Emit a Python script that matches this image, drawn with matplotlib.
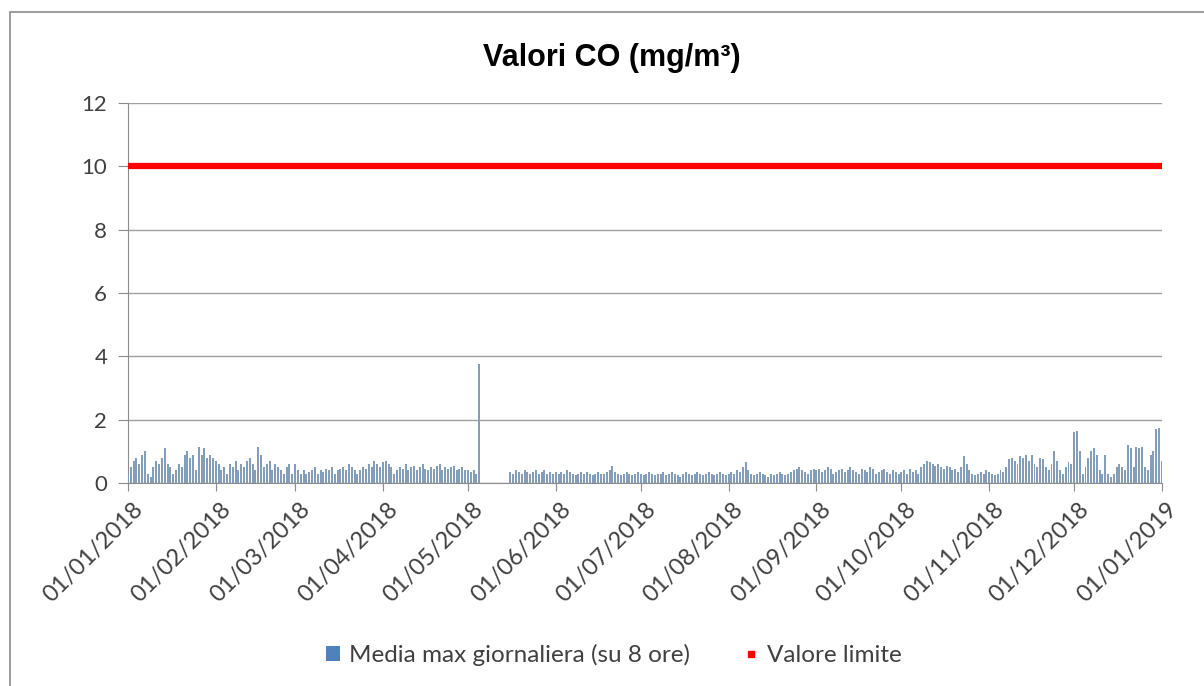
import numpy as np
import pandas as pd
import matplotlib
matplotlib.use("Agg")
import matplotlib.pyplot as plt
import matplotlib.dates as mdates
import matplotlib.transforms as mtransforms
from matplotlib.patches import Patch, Rectangle
from matplotlib.lines import Line2D

# Media max giornaliera (su 8 ore), mg/m3 - valori giornalieri 2018
gen = [0.3, 0.5, 0.7, 0.8, 0.6, 0.9, 1.0, 0.3, 0.2, 0.5, 0.7, 0.6, 0.8, 1.1, 0.6, 0.5,
       0.3, 0.4, 0.6, 0.5, 0.9, 1.0, 0.8, 0.9, 0.4, 1.15, 0.9, 1.1, 0.8, 0.9, 0.8]
feb = [0.7, 0.6, 0.4, 0.5, 0.3, 0.6, 0.5, 0.7, 0.4, 0.6, 0.5, 0.7, 0.8, 0.6, 0.4, 1.15,
       0.9, 0.5, 0.6, 0.7, 0.4, 0.6, 0.5, 0.4, 0.3, 0.5, 0.6, 0.3]
mar = [0.6, 0.4, 0.3, 0.4, 0.3, 0.35, 0.4, 0.5, 0.3, 0.4, 0.35, 0.45, 0.4, 0.5, 0.3, 0.4,
       0.45, 0.5, 0.4, 0.6, 0.5, 0.4, 0.3, 0.4, 0.5, 0.45, 0.6, 0.5, 0.7, 0.6, 0.5]
apr = [0.65, 0.7, 0.6, 0.5, 0.3, 0.4, 0.5, 0.45, 0.6, 0.4, 0.5, 0.55, 0.4, 0.5, 0.6,
       0.45, 0.4, 0.5, 0.45, 0.55, 0.6, 0.4, 0.5, 0.45, 0.5, 0.55, 0.4, 0.45, 0.5, 0.4]
mag = [0.4, 0.35, 0.4, 0.3, 3.75] + [np.nan] * 10 + \
      [0.35, 0.3, 0.4, 0.35, 0.3, 0.4, 0.35, 0.3, 0.35, 0.4, 0.3, 0.35, 0.4, 0.3, 0.35, 0.3]
giu = [0.35, 0.3, 0.35, 0.3, 0.4, 0.35, 0.3, 0.25, 0.3, 0.35, 0.3, 0.35, 0.3, 0.25, 0.3,
       0.35, 0.3, 0.3, 0.35, 0.4, 0.55, 0.35, 0.3, 0.25, 0.3, 0.35, 0.3, 0.25, 0.3, 0.35]
lug = [0.3, 0.25, 0.3, 0.35, 0.3, 0.25, 0.3, 0.3, 0.35, 0.25, 0.3, 0.35, 0.3, 0.25, 0.2,
       0.3, 0.35, 0.3, 0.25, 0.3, 0.35, 0.3, 0.25, 0.3, 0.35, 0.3, 0.25, 0.3, 0.35, 0.3, 0.25]
ago = [0.3, 0.35, 0.3, 0.4, 0.35, 0.5, 0.65, 0.4, 0.3, 0.25, 0.3, 0.35, 0.3, 0.25, 0.2,
       0.3, 0.25, 0.3, 0.35, 0.3, 0.25, 0.3, 0.35, 0.4, 0.45, 0.5, 0.4, 0.35, 0.3, 0.4, 0.45]
set_ = [0.4, 0.45, 0.35, 0.4, 0.5, 0.45, 0.3, 0.35, 0.4, 0.45, 0.35, 0.4, 0.5, 0.4, 0.35,
        0.3, 0.45, 0.4, 0.35, 0.5, 0.45, 0.3, 0.35, 0.4, 0.45, 0.35, 0.3, 0.4, 0.35, 0.3]
ott = [0.35, 0.4, 0.3, 0.45, 0.35, 0.4, 0.3, 0.5, 0.6, 0.7, 0.65, 0.6, 0.55, 0.6, 0.5,
       0.45, 0.55, 0.5, 0.4, 0.45, 0.35, 0.5, 0.85, 0.6, 0.4, 0.3, 0.25, 0.3, 0.35, 0.3, 0.4]
nov = [0.35, 0.3, 0.25, 0.3, 0.4, 0.35, 0.5, 0.75, 0.8, 0.7, 0.6, 0.85, 0.8, 0.9, 0.7,
       0.88, 0.6, 0.5, 0.8, 0.75, 0.5, 0.4, 0.6, 1.0, 0.7, 0.4, 0.3, 0.5, 0.65, 0.6]
dic = [1.6, 1.65, 1.0, 0.3, 0.5, 0.8, 1.0, 1.1, 0.9, 0.4, 0.3, 0.9, 0.3, 0.2, 0.3, 0.5,
       0.6, 0.5, 0.4, 1.2, 1.1, 0.5, 1.15, 1.1, 1.15, 0.5, 0.4, 0.9, 1.0, 1.7, 1.75]
gen19 = [0.7]

valori = gen + feb + mar + apr + mag + giu + lug + ago + set_ + ott + nov + dic + gen19
date = pd.date_range("2018-01-01", periods=len(valori), freq="D")
valore_limite = 10

plt.rcParams["font.family"] = ["Lato", "DejaVu Sans"]

fig = plt.figure(figsize=(12.04, 6.86), dpi=100)
ax = fig.add_axes([0.1063, 0.2959, 0.8588, 0.554])

# cornice esterna del grafico
fig.patches.append(Rectangle((10 / 1204, -0.05), 1.1, 1.05 - 12 / 686,
                             transform=fig.transFigure, fill=False,
                             edgecolor="#8c8c8c", lw=1.2))

ax.bar(date, valori, width=0.7, color="#849eb9", edgecolor="none", zorder=3)
ax.plot([pd.Timestamp("2018-01-01"), pd.Timestamp("2019-01-01")],
        [valore_limite, valore_limite], color="#ff0000", lw=4.5, zorder=4,
        solid_capstyle="butt")

ax.set_xlim(pd.Timestamp("2018-01-01"), pd.Timestamp("2019-01-01"))
ax.set_ylim(0, 12)
ax.set_yticks(range(0, 13, 2))
ax.yaxis.grid(True, color="#a0a0a0", lw=1, zorder=0)
ax.set_axisbelow(True)

ax.xaxis.set_major_locator(mdates.MonthLocator(bymonthday=1))
ax.xaxis.set_major_formatter(mdates.DateFormatter("%d/%m/%Y"))
for s in ["top", "right"]:
    ax.spines[s].set_visible(False)
for s in ["left", "bottom"]:
    ax.spines[s].set_color("#8c8c8c")
ax.tick_params(axis="y", length=7, color="#8c8c8c", labelsize=16,
               labelcolor="#404040", pad=8)
ax.tick_params(axis="x", length=6, color="#8c8c8c", labelsize=17,
               labelcolor="#404040", pad=5)
sposta = mtransforms.ScaledTranslation(4 / 100, 0, fig.dpi_scale_trans)
for lab in ax.get_xticklabels():
    lab.set_rotation(45)
    lab.set_ha("right")
    lab.set_va("top")
    lab.set_rotation_mode("anchor")
    lab.set_transform(lab.get_transform() + sposta)

fig.text(0.508, 0.915, "Valori CO (mg/m³)", ha="center", va="center",
         fontsize=22, fontweight="bold", family=["Liberation Sans", "DejaVu Sans"])

handles = [Patch(facecolor="#4f81bd", edgecolor="none"),
           Line2D([], [], color="#ff0000", marker="s", markersize=5, lw=0)]
fig.legend(handles, ["Media max giornaliera (su 8 ore)", "Valore limite"],
           loc="center", bbox_to_anchor=(0.51, 0.045), ncol=2, frameon=False,
           fontsize=17.5, labelcolor="#404040", handlelength=0.55, handleheight=0.55,
           handletextpad=0.4, columnspacing=2.2)

fig.savefig("out.png", dpi=100)
